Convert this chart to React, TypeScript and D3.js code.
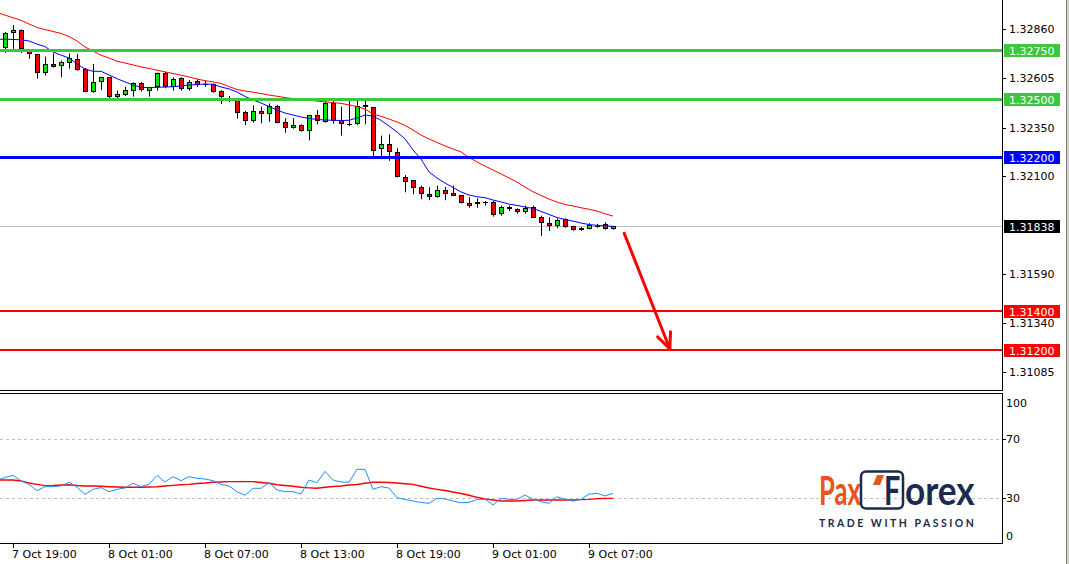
import React from 'react';
import * as d3 from 'd3';

const W = 1069;
const H = 564;

// ---- data (M30 candles, 7 Oct 18:30 .. 9 Oct 08:30) ----
const opens = [1.32763,1.32838,1.32855,1.32746,1.32730,1.32634,1.32679,1.32670,1.32686,1.32703,
1.32655,1.32536,1.32587,1.32610,1.32507,1.32521,1.32541,1.32582,1.32541,1.32561,
1.32634,1.32558,1.32605,1.32548,1.32592,1.32575,1.32575,1.32541,1.32503,1.32496,
1.32430,1.32385,1.32436,1.32419,1.32462,1.32379,1.32349,1.32362,1.32331,1.32413,
1.32380,1.32475,1.32388,1.32369,1.32367,1.32467,1.32455,1.32237,1.32263,1.32225,
1.32093,1.32077,1.32041,1.32006,1.31992,1.32025,1.32010,1.32001,1.31958,1.31953,
1.31963,1.31965,1.31904,1.31937,1.31929,1.31911,1.31939,1.31886,1.31855,1.31842,
1.31877,1.31839,1.31818,1.31827,1.31843,1.31849,1.31825];
const highs = [1.32845,1.32881,1.32858,1.32751,1.32731,1.32717,1.32734,1.32696,1.32734,1.32731,
1.32658,1.32679,1.32612,1.32612,1.32541,1.32561,1.32584,1.32586,1.32560,1.32634,
1.32638,1.32610,1.32610,1.32596,1.32600,1.32591,1.32578,1.32544,1.32513,1.32498,
1.32436,1.32465,1.32458,1.32475,1.32467,1.32398,1.32398,1.32367,1.32415,1.32441,
1.32484,1.32487,1.32458,1.32493,1.32493,1.32495,1.32456,1.32308,1.32315,1.32243,
1.32104,1.32079,1.32049,1.32041,1.32049,1.32042,1.32049,1.32001,1.31989,1.31984,
1.31970,1.31970,1.31946,1.31946,1.31932,1.31946,1.31946,1.31894,1.31886,1.31880,
1.31880,1.31841,1.31835,1.31855,1.31852,1.31860,1.31839];
const lows = [1.32737,1.32757,1.32736,1.32706,1.32603,1.32620,1.32660,1.32610,1.32655,1.32644,
1.32534,1.32530,1.32544,1.32503,1.32503,1.32513,1.32510,1.32536,1.32510,1.32541,
1.32553,1.32541,1.32541,1.32541,1.32561,1.32561,1.32530,1.32472,1.32482,1.32396,
1.32363,1.32375,1.32372,1.32380,1.32372,1.32323,1.32344,1.32329,1.32284,1.32367,
1.32375,1.32370,1.32308,1.32358,1.32363,1.32367,1.32203,1.32191,1.32178,1.32092,
1.32015,1.32005,1.31979,1.31974,1.31987,1.31974,1.31996,1.31957,1.31935,1.31935,
1.31946,1.31889,1.31894,1.31918,1.31904,1.31904,1.31882,1.31790,1.31815,1.31829,
1.31832,1.31816,1.31816,1.31823,1.31832,1.31821,1.31822];
const closes = [1.32839,1.32855,1.32755,1.32729,1.32634,1.32679,1.32665,1.32689,1.32708,1.32648,
1.32536,1.32586,1.32610,1.32507,1.32524,1.32542,1.32579,1.32544,1.32558,1.32631,
1.32558,1.32600,1.32548,1.32587,1.32569,1.32573,1.32536,1.32507,1.32500,1.32427,
1.32385,1.32434,1.32419,1.32462,1.32375,1.32349,1.32362,1.32331,1.32413,1.32384,
1.32475,1.32384,1.32367,1.32367,1.32464,1.32455,1.32231,1.32263,1.32225,1.32094,
1.32070,1.32036,1.32005,1.31992,1.32025,1.32008,1.31997,1.31958,1.31946,1.31965,
1.31961,1.31897,1.31937,1.31927,1.31911,1.31935,1.31884,1.31855,1.31842,1.31873,
1.31835,1.31818,1.31832,1.31847,1.31841,1.31825,1.31838];

// moving averages, values start at candle index -1
const maFast = [1.32807,1.32807,1.32806,1.32804,1.32798,1.32782,1.32769,1.32741,1.32725,1.32710,1.32679,
1.32653,1.32641,1.32641,1.32622,1.32603,1.32586,1.32570,1.32558,1.32557,1.32558,
1.32560,1.32561,1.32565,1.32570,1.32573,1.32575,1.32574,1.32560,1.32550,1.32534,
1.32511,1.32493,1.32477,1.32459,1.32441,1.32425,1.32415,1.32405,1.32397,1.32392,
1.32389,1.32388,1.32386,1.32388,1.32399,1.32415,1.32410,1.32387,1.32358,1.32327,
1.32291,1.32234,1.32187,1.32120,1.32089,1.32063,1.32040,1.32017,1.32001,1.31992,
1.31987,1.31975,1.31965,1.31954,1.31947,1.31939,1.31931,1.31916,1.31900,1.31885,
1.31874,1.31866,1.31856,1.31848,1.31844,1.31841,1.31839];
const maSlow = [1.32945,1.32932,1.32918,1.32905,1.32886,1.32868,1.32857,1.32847,1.32837,1.32821,1.32798,
1.32767,1.32746,1.32724,1.32710,1.32693,1.32684,1.32674,1.32664,1.32656,1.32647,
1.32638,1.32630,1.32621,1.32612,1.32601,1.32593,1.32586,1.32578,1.32562,1.32547,
1.32539,1.32533,1.32526,1.32518,1.32512,1.32505,1.32500,1.32496,1.32492,1.32487,
1.32483,1.32479,1.32475,1.32467,1.32459,1.32446,1.32420,1.32408,1.32394,1.32379,
1.32361,1.32337,1.32311,1.32291,1.32273,1.32255,1.32239,1.32224,1.32195,1.32172,
1.32151,1.32130,1.32110,1.32089,1.32068,1.32042,1.32018,1.31998,1.31980,1.31964,
1.31952,1.31944,1.31935,1.31927,1.31918,1.31904,1.31892];

// oscillator (start at candle index -1)
const rsi = [42.0,43.7,45.2,41.4,39.1,34.8,37.5,37.5,38.0,40.5,37.3,
32.3,35.7,36.9,34.1,35.7,36.6,39.8,37.5,39.1,45.2,
40.7,44.3,41.6,44.3,43.2,42.7,41.6,39.1,38.0,34.1,
31.7,36.4,36.4,40.2,35.3,34.1,34.1,32.5,42.0,40.2,
47.9,42.0,40.7,40.5,49.3,49.2,35.7,37.5,36.6,30.0,
28.8,27.8,26.8,26.2,29.6,29.2,27.8,26.6,26.9,28.8,
28.9,25.1,29.6,28.9,28.9,31.9,28.9,27.3,26.2,30.7,
28.9,27.8,28.9,32.5,33.0,31.2,33.0];
const rsiSignal = [42.0,42.0,42.0,41.4,40.0,39.1,38.2,38.3,38.6,38.8,38.3,
38.0,38.0,37.8,37.5,37.3,37.1,37.1,37.1,37.3,37.5,
38.0,38.4,38.8,39.1,39.7,40.0,40.5,40.7,40.9,40.9,
40.9,40.9,40.3,39.8,38.8,38.3,37.8,37.1,36.7,36.4,
37.1,37.6,38.0,38.6,39.0,39.8,40.5,40.5,40.3,40.0,
39.5,39.1,37.8,36.6,35.7,34.9,33.9,32.9,31.7,30.3,
29.2,28.5,27.8,27.8,27.8,28.1,28.5,28.5,28.5,28.5,
28.5,28.5,28.7,28.9,29.4,29.6,29.6];

const priceTicks = [1.32860,1.32605,1.32350,1.32100,1.31590,1.31340,1.31085];
const oscTicks = [100,70,30,0];
const oscLevels = [70,30];
const timeLabels = ['7 Oct 19:00','8 Oct 01:00','8 Oct 07:00','8 Oct 13:00','8 Oct 19:00','9 Oct 01:00','9 Oct 07:00'];
const timeIndex = [1,13,25,37,49,61,73];

const levelPrices = [1.32750,1.32500,1.32200,1.31400,1.31200];
const levelColors = ['#3cc83c','#3cc83c','#0000ff','#ff0000','#ff0000'];
const levelWidths = [3,3,3,2,2];
const lastPrice = 1.31838;
// arrow annotation: [candle index, price]
const arrowFrom = [77.4, 1.31803];
const arrowTo = [83.1, 1.31205];

const fmt = (v: number) => v.toFixed(5);

export default function App() {
  const x = d3.scaleLinear().domain([0, 76]).range([5, 613]);
  const y = d3.scaleLinear().domain([1.31085, 1.32860]).range([372, 29]);
  const yo = d3.scaleLinear().domain([0, 100]).range([542, 394.5]);
  const px = (i: number) => Math.round(x(i));

  const lineMain = d3.line<number>().x((_, i) => x(i - 1)).y(d => y(d));
  const lineOsc = d3.line<number>().x((_, i) => x(i - 1)).y(d => yo(d));

  const candles = opens.map((o, i) => {
    const c = closes[i], h = highs[i], l = lows[i];
    const cx = px(i);
    const top = Math.round(y(Math.max(o, c)));
    const bot = Math.round(y(Math.min(o, c)));
    const bull = c > o;
    const hgt = bot - top;
    return (
      <g key={i}>
        <line x1={cx + 0.5} x2={cx + 0.5} y1={y(h)} y2={y(l)} stroke="#000" strokeWidth={1} />
        {hgt < 2 ? (
          <line x1={cx - 2} x2={cx + 3} y1={top + 0.5} y2={top + 0.5} stroke="#000" strokeWidth={1} />
        ) : (
          <rect x={cx - 1.5} y={top + 0.5} width={4} height={hgt - 1}
            fill={bull ? '#00e600' : '#f00000'} stroke="#000" strokeWidth={1} />
        )}
      </g>
    );
  });

  const ax1 = x(arrowFrom[0]), ay1 = y(arrowFrom[1]);
  const ax2 = x(arrowTo[0]), ay2 = y(arrowTo[1]);
  const ang = Math.atan2(ay2 - ay1, ax2 - ax1);
  const headLen = 17, headAng = 0.42;
  const h1 = [ax2 - headLen * Math.cos(ang - headAng), ay2 - headLen * Math.sin(ang - headAng)];
  const h2 = [ax2 - headLen * Math.cos(ang + headAng), ay2 - headLen * Math.sin(ang + headAng)];

  const navy = '#1b2a4e';
  const orange = '#e8541c';

  return (
    <svg width={W} height={H} style={{ position: 'absolute', left: 0, top: 0, background: '#fff' }}
      fontFamily="DejaVu Sans" fontSize={11}>
      <defs>
        <clipPath id="mainClip"><rect x={0} y={0} width={1002} height={390} /></clipPath>
        <clipPath id="oscClip"><rect x={0} y={394} width={1002} height={149} /></clipPath>
      </defs>
      <rect x={0} y={0} width={W} height={H} fill="#fff" />

      <g clipPath="url(#mainClip)">
        <line x1={0} x2={1002} y1={Math.round(y(lastPrice)) + 0.5} y2={Math.round(y(lastPrice)) + 0.5} stroke="#c0c0c0" strokeWidth={1} />
        {candles}
        <path d={lineMain(maSlow) || ''} fill="none" stroke="#ff0000" strokeWidth={1} />
        <path d={lineMain(maFast) || ''} fill="none" stroke="#0000ff" strokeWidth={1} />
        {levelPrices.map((p, i) => (
          <line key={i} x1={0} x2={1002} y1={Math.round(y(p)) + (levelWidths[i] % 2 ? 0.5 : 0)}
            y2={Math.round(y(p)) + (levelWidths[i] % 2 ? 0.5 : 0)} stroke={levelColors[i]} strokeWidth={levelWidths[i]} />
        ))}
        <line x1={ax1} y1={ay1} x2={ax2} y2={ay2} stroke="#ff0000" strokeWidth={3} strokeLinecap="round" />
        <line x1={ax2} y1={ay2} x2={h1[0]} y2={h1[1]} stroke="#ff0000" strokeWidth={3} strokeLinecap="round" />
        <line x1={ax2} y1={ay2} x2={h2[0]} y2={h2[1]} stroke="#ff0000" strokeWidth={3} strokeLinecap="round" />
      </g>

      <line x1={1002.5} x2={1002.5} y1={0} y2={391} stroke="#000" />
      <line x1={0} x2={1003} y1={390.5} y2={390.5} stroke="#000" />

      {priceTicks.map((t, i) => (
        <g key={i}>
          <line x1={1003} x2={1006} y1={Math.round(y(t)) + 0.5} y2={Math.round(y(t)) + 0.5} stroke="#000" />
          <text x={1009} y={y(t) + 4} fill="#000">{fmt(t)}</text>
        </g>
      ))}
      {levelPrices.map((p, i) => (
        <g key={i}>
          <rect x={1004} y={Math.round(y(p)) - 6} width={56} height={13} fill={levelColors[i]} />
          <text x={1009} y={Math.round(y(p)) + 4.5} fill="#fff">{fmt(p)}</text>
        </g>
      ))}
      <rect x={1004} y={Math.round(y(lastPrice)) - 6} width={56} height={13} fill="#000" />
      <text x={1009} y={Math.round(y(lastPrice)) + 4.5} fill="#fff">{fmt(lastPrice)}</text>

      <line x1={0} x2={1003} y1={393.5} y2={393.5} stroke="#000" />
      <g clipPath="url(#oscClip)">
        {oscLevels.map((v, i) => (
          <line key={i} x1={0} x2={1002} y1={Math.round(yo(v)) + 0.5} y2={Math.round(yo(v)) + 0.5}
            stroke="#c0c0c0" strokeDasharray="3,3" />
        ))}
        <path d={lineOsc(rsiSignal) || ''} fill="none" stroke="#ff0000" strokeWidth={1.4} />
        <path d={lineOsc(rsi) || ''} fill="none" stroke="#1e90ff" strokeWidth={1} />
      </g>
      <line x1={1002.5} x2={1002.5} y1={393} y2={544} stroke="#000" />
      <line x1={0} x2={1003} y1={543.5} y2={543.5} stroke="#000" />
      {oscTicks.map((v, i) => {
        const ty = Math.min(Math.max(yo(v), 403), 536);
        return (
          <g key={i}>
            {(v === 70 || v === 30) && (
              <line x1={1003} x2={1006} y1={Math.round(yo(v)) + 0.5} y2={Math.round(yo(v)) + 0.5} stroke="#000" />
            )}
            <text x={1006} y={ty + 4} fill="#000">{v}</text>
          </g>
        );
      })}

      {timeIndex.map((ti, i) => (
        <g key={i}>
          <line x1={px(ti) + 0.5} x2={px(ti) + 0.5} y1={544} y2={548} stroke="#000" />
          <text x={px(ti) - 1} y={558} fill="#000">{timeLabels[i]}</text>
        </g>
      ))}

      <line x1={1066.5} x2={1066.5} y1={0} y2={H} stroke="#808080" />
      <rect x={1067} y={0} width={2} height={H} fill="#d4d0c8" />

      {/* logo */}
      <g fontFamily="Lato" fontWeight={700}>
        <text transform="translate(819,505) scale(0.64,1)" fontSize={40} fill={orange}>Pax</text>
        <rect x={861} y={471.5} width={42} height={37} rx={5} fill="none" stroke={navy} strokeWidth={2.5} />
        <path d="M877 475 L884 475 L880 485 L873 485 Z" fill={orange} />
        <text transform="translate(884,505) scale(0.72,1)" fontSize={40} fill={navy}>F</text>
        <text transform="translate(905,505) scale(0.88,1)" fontSize={40} fill={navy}>orex</text>
        <text x={819} y={527} fontSize={10.5} fill={navy} letterSpacing={2.5}>TRADE WITH PASSION</text>
      </g>
    </svg>
  );
}
